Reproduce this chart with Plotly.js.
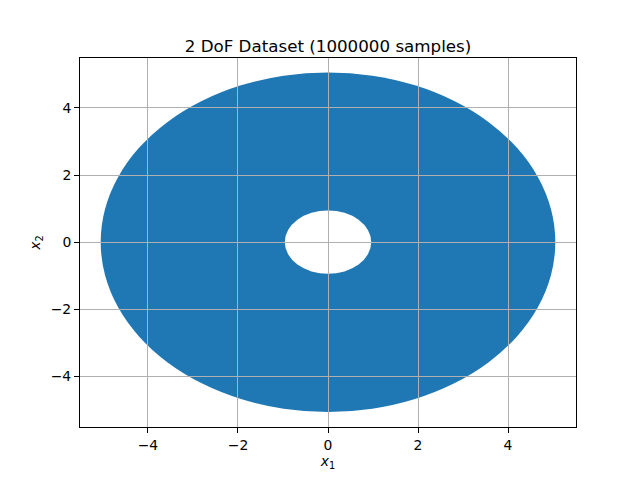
<!DOCTYPE html>
<html>
<head>
<meta charset="utf-8">
<script src="https://cdn.plot.ly/plotly-3.0.1.min.js"></script>
<style>
  html, body { margin: 0; padding: 0; background: #fff; }
  #chart { width: 640px; height: 480px; }
</style>
</head>
<body>
<div id="chart"></div>
<script>
// annulus (visible edges, incl. marker spread)
const outerHalfX = 5.05, outerHalfY = 5.06;
const innerHalfX = 0.96, innerHalfY = 0.945;
const xRange = [-5.51, 5.51];
const yRange = [-5.51, 5.49];
const tickVals = [-4, -2, 0, 2, 4];

const font = 'DejaVu Sans, sans-serif';

const shapes = [
    {
        type: 'circle', xref: 'x', yref: 'y', layer: 'below',
        x0: -outerHalfX, x1: outerHalfX, y0: -outerHalfY, y1: outerHalfY,
        fillcolor: '#1f77b4', line: { width: 0 }
    },
    {
        type: 'circle', xref: 'x', yref: 'y', layer: 'below',
        x0: -innerHalfX, x1: innerHalfX, y0: -innerHalfY, y1: innerHalfY,
        fillcolor: '#ffffff', line: { width: 0 }
    }
];

const axisCommon = {
    tickvals: tickVals,
    ticks: 'outside',
    ticklen: 5,
    tickwidth: 1,
    tickcolor: '#000',
    showline: true,
    linecolor: '#000',
    linewidth: 1,
    mirror: true,
    showgrid: true,
    gridcolor: '#b0b0b0',
    gridwidth: 1,
    zeroline: false,
    tickfont: { family: font, size: 13.9, color: '#000' }
};

const layout = {
    width: 640,
    height: 480,
    margin: { l: 80, r: 64, t: 58, b: 53 },
    paper_bgcolor: '#fff',
    plot_bgcolor: '#fff',
    showlegend: false,
    title: {
        text: '2 DoF Dataset (1000000 samples)',
        font: { family: font, size: 16.7, color: '#000' },
        x: 0.5, xref: 'paper', xanchor: 'center',
        y: 1, yref: 'paper', yanchor: 'bottom',
        pad: { b: 6 }
    },
    xaxis: Object.assign({}, axisCommon, {
        range: xRange,
        title: { text: '<i>x</i><sub>1</sub>', standoff: 4, font: { family: font, size: 13.9, color: '#000' } }
    }),
    yaxis: Object.assign({}, axisCommon, {
        range: yRange,
        title: { text: '<i>x</i><sub>2</sub>', standoff: 6, font: { family: font, size: 13.9, color: '#000' } }
    }),
    shapes: shapes
};

Plotly.newPlot('chart', [{ x: [], y: [], type: 'scatter', mode: 'markers', hoverinfo: 'skip' }], layout,
    { staticPlot: true, displayModeBar: false });
</script>
</body>
</html>
